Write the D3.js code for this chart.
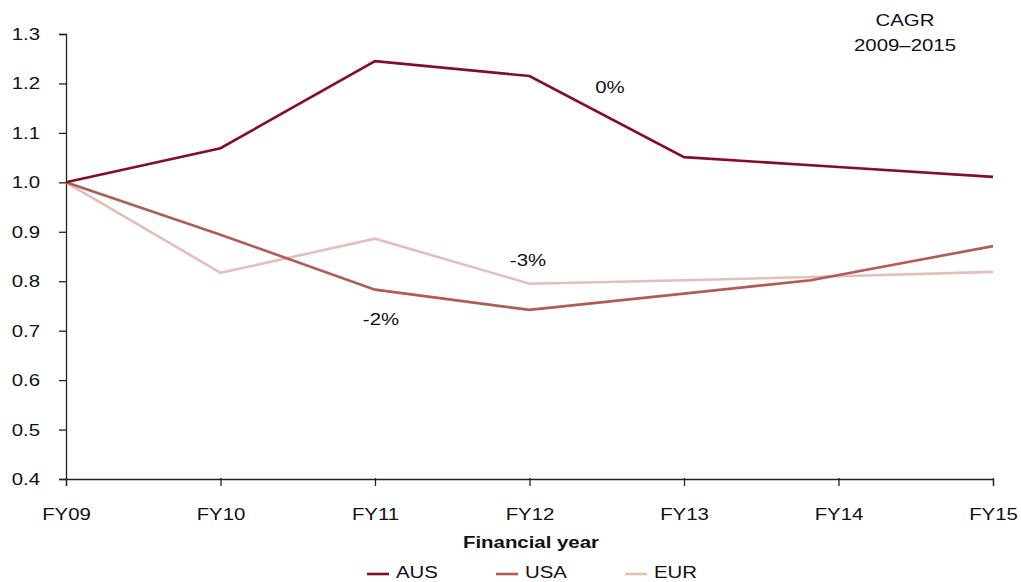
<!DOCTYPE html>
<html><head><meta charset="utf-8">
<script src="https://cdn.jsdelivr.net/npm/d3@7"></script>
<style>body{margin:0;background:#fff}svg{display:block;font-family:"Liberation Sans",Arial,Helvetica,sans-serif}</style>
</head><body><svg id="c" width="1021" height="582"></svg>
<script>
const years = [2009, 2010, 2011, 2012, 2013, 2014, 2015];
const tickLabels = ["FY09", "FY10", "FY11", "FY12", "FY13", "FY14", "FY15"];
const yTicks = [0.4, 0.5, 0.6, 0.7, 0.8, 0.9, 1.0, 1.1, 1.2, 1.3];
const ausX = [2009, 2010, 2011, 2012, 2013, 2014, 2015];
const ausY = [1.00, 1.069, 1.245, 1.215, 1.051, 1.031, 1.011];
const usaX = [2009, 2010, 2011, 2012, 2013, 2013.82, 2015];
const usaY = [1.00, 0.894, 0.783, 0.742, 0.775, 0.802, 0.871];
const eurX = [2009, 2010, 2011, 2012, 2013, 2014, 2015];
const eurY = [1.00, 0.817, 0.886, 0.795, 0.802, 0.810, 0.819];
const seriesNames = ["AUS", "USA", "EUR"];
const cagrLabels = ["0%", "-2%", "-3%"];

const S = 1.2; // horizontal stretch of text seen in the reference
const colors = {AUS: "#870c25", USA: "#b35a55", EUR: "#e3bfb8"};
const svg = d3.select("#c");
const x = d3.scaleLinear().domain([2009, 2015]).range([66, 993]);
const y = d3.scaleLinear().domain([0.4, 1.3]).range([479, 34]);

const yAxis = svg.append("g").attr("transform", "translate(66,0)")
  .call(d3.axisLeft(y).tickValues(yTicks).tickFormat(d3.format(".1f")).tickSize(7).tickPadding(19));
const xAxis = svg.append("g").attr("transform", "translate(0,479)")
  .call(d3.axisBottom(x).tickValues(years).tickFormat((d, i) => tickLabels[i]).tickSize(7).tickPadding(22));
[yAxis, xAxis].forEach(g => {
  g.select(".domain").attr("stroke", "#222").attr("stroke-width", 1.3);
  g.selectAll(".tick line").attr("stroke", "#222").attr("stroke-width", 1.3);
  g.selectAll("text").attr("font-size", 17).attr("fill", "#111")
    .attr("font-family", "Liberation Sans, Arial, sans-serif")
    .each(function () {
      const t = d3.select(this);
      const ox = +t.attr("x") || 0;
      t.attr("x", ox / S).attr("transform", `scale(${S},1)`);
    });
});
xAxis.selectAll(".tick line").attr("y1", -1);

const line = d3.line().x(d => x(d[0])).y(d => y(d[1]));
const data = {
  EUR: eurX.map((v, i) => [v, eurY[i]]),
  USA: usaX.map((v, i) => [v, usaY[i]]),
  AUS: ausX.map((v, i) => [v, ausY[i]])
};
["EUR", "USA", "AUS"].forEach(k => {
  svg.append("path").attr("d", line(data[k])).attr("fill", "none")
    .attr("stroke", colors[k]).attr("stroke-width", 2.6).attr("stroke-linejoin", "miter");
});

const txt = (t, px, py, opts = {}) => svg.append("text").text(t)
  .attr("x", px / S).attr("y", py).attr("transform", `scale(${S},1)`)
  .attr("font-size", opts.size || 17).attr("fill", "#111")
  .attr("text-anchor", opts.anchor || "middle").attr("font-weight", opts.weight || "normal");

txt("CAGR", 905, 26);
txt("2009\u20132015", 905, 51);
txt(cagrLabels[0], 610, 93);
txt(cagrLabels[2], 528, 266);
txt(cagrLabels[1], 381, 325);
txt("Financial year", 531, 548, {weight: "bold", size: 17});

const legX = [367, 496, 625];
seriesNames.forEach((k, i) => {
  svg.append("line").attr("x1", legX[i]).attr("x2", legX[i] + 22).attr("y1", 574).attr("y2", 574)
    .attr("stroke", colors[k]).attr("stroke-width", 2.6);
  txt(k, legX[i] + 29, 578, {anchor: "start"});
});
</script></body></html>
